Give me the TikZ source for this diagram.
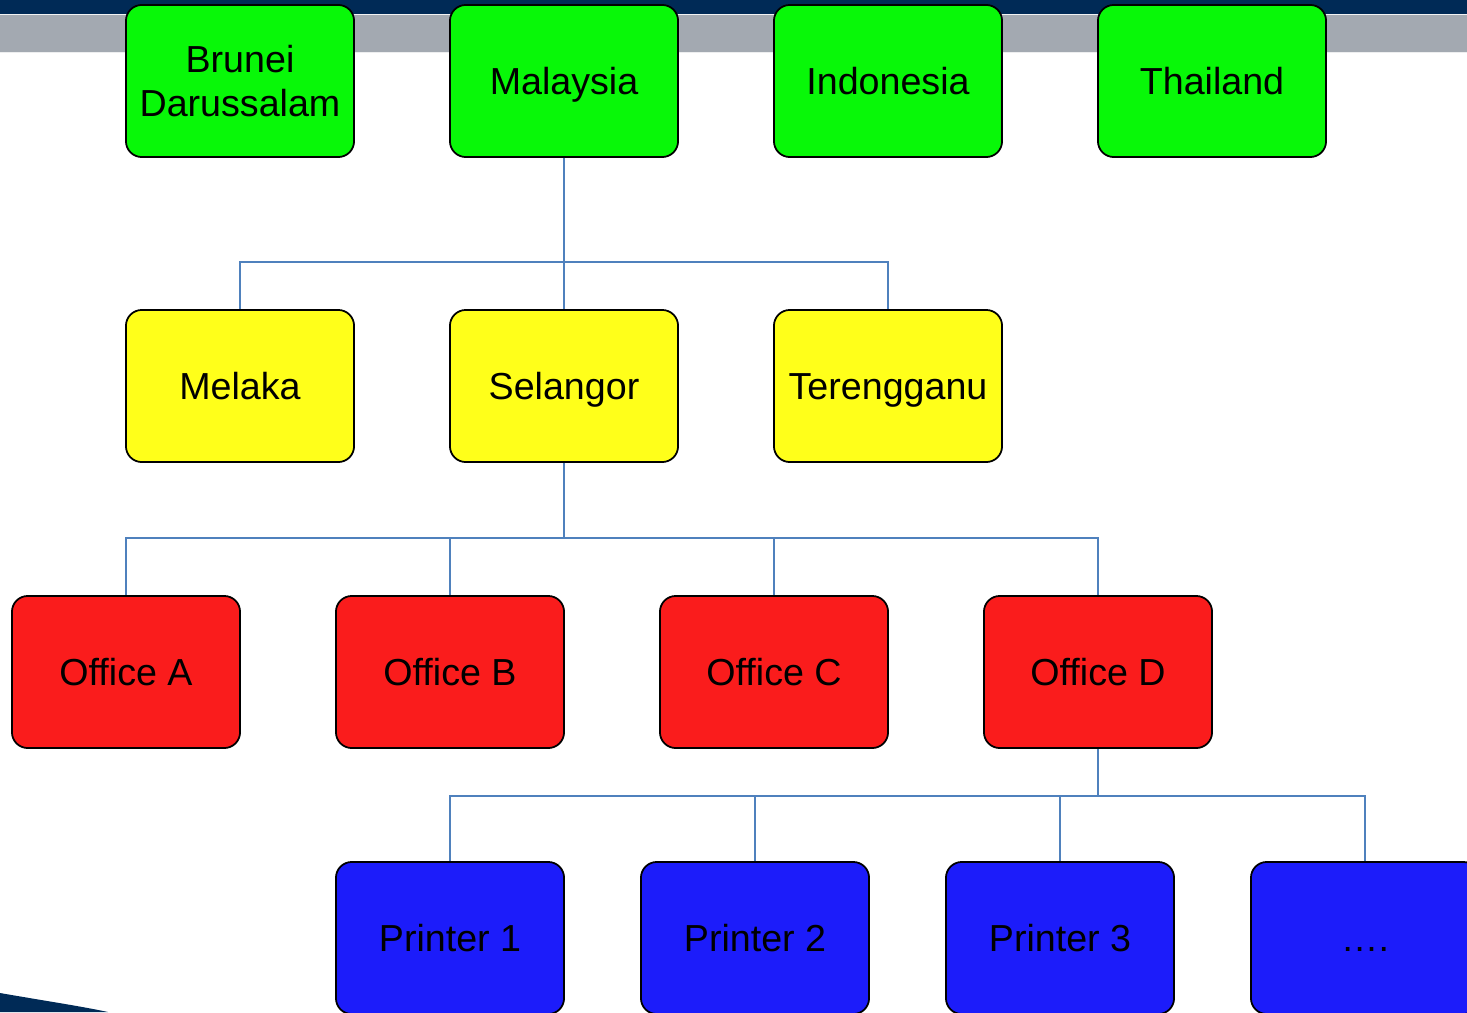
\documentclass[tikz,border=0pt]{standalone}
\usepackage{fontspec}
\setmainfont{Liberation Sans}
\usetikzlibrary{positioning,calc}
\definecolor{navy}{HTML}{002A56}
\definecolor{band}{HTML}{A3A9B1}
\definecolor{wire}{HTML}{4F81BD}
\definecolor{cgreen}{HTML}{08F808}
\definecolor{cyellow}{HTML}{FFFF1A}
\definecolor{cred}{HTML}{FA1C1C}
\definecolor{cblue}{HTML}{1C1CFA}

\begin{document}
\begin{tikzpicture}[x=0.01cm, y=-0.01cm,
    unit/.style={draw=black, line width=0.5pt, rounded corners=4.5pt, minimum width=2.28cm, minimum height=1.52cm,
                 inner sep=0pt, align=center, text height=0.78em, text depth=0.02em,
                 font=\fontsize{10.7}{12.7}\selectfont},
    country/.style={unit, fill=cgreen},
    state/.style={unit, fill=cyellow},
    office/.style={unit, fill=cred},
    printer/.style={unit, fill=cblue},
    link/.style={draw=wire, line width=0.6pt}]
    \useasboundingbox (0,0) rectangle (1467,1012);
    % slide background
    \fill[navy] (0,0) rectangle (1467,14);
    \fill[band] (0,15) rectangle (1467,52);
    \draw[white!85!band, line width=0.5pt] (0,14.5) -- (1467,14.5);
    \draw[white!80!band, line width=0.5pt] (0,52.5) -- (1467,52.5);
    \fill[navy] (0,993) .. controls (40,1000) and (80,1006) .. (108,1012) -- (0,1012) -- cycle;

    % countries
    \node[country, text height=, text depth=] (brunei) at (240,81) {Brunei\\Darussalam};
    \node[country] (malaysia) at (564,81) {Malaysia};
    \node[country] (indonesia) at (888,81) {Indonesia};
    \node[country] (thailand) at (1212,81) {Thailand};

    % states
    \node[state] (melaka) at (240,386) {Melaka};
    \node[state] (selangor) at (564,386) {Selangor};
    \node[state] (terengganu) at (888,386) {Terengganu};

    % offices
    \node[office] (officeA) at (126,672) {Office A};
    \node[office] (officeB) at (450,672) {Office B};
    \node[office] (officeC) at (774,672) {Office C};
    \node[office] (officeD) at (1098,672) {Office D};

    % printers
    \node[printer] (printer1) at (450,938) {Printer 1};
    \node[printer] (printer2) at (755,938) {Printer 2};
    \node[printer] (printer3) at (1060,938) {Printer 3};
    \node[printer] (printerN) at (1365,938) {\dots.};

    % connectors
    \coordinate (busS) at (564,262);
    \coordinate (busO) at (564,538);
    \coordinate (busP) at (1098,796);
    \draw[link] (malaysia.south) -- (busS);
    \foreach \n in {melaka,selangor,terengganu}
        \draw[link] (busS) -| (\n.north);
    \draw[link] (selangor.south) -- (busO);
    \foreach \n in {officeA,officeB,officeC,officeD}
        \draw[link] (busO) -| (\n.north);
    \draw[link] (officeD.south) -- (busP);
    \foreach \n in {printer1,printer2,printer3,printerN}
        \draw[link] (busP) -| (\n.north);
\end{tikzpicture}
\end{document}
